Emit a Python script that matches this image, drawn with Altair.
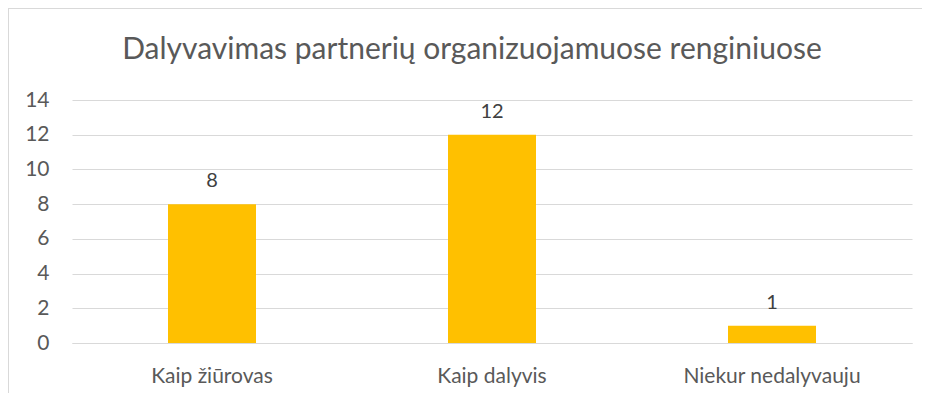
import altair as alt
import pandas as pd

categories = ["Kaip žiūrovas", "Kaip dalyvis", "Niekur nedalyvauju"]
values = [8, 12, 1]
y_ticks = [0, 2, 4, 6, 8, 10, 12, 14]

df = pd.DataFrame({"cat": categories, "val": values})

FONT = "Lato"
GREY = "#595959"

base = alt.Chart(df).encode(
    x=alt.X("cat:N", sort=categories, title=None,
            scale=alt.Scale(paddingInner=0, paddingOuter=0),
            axis=alt.Axis(labelAngle=0, labelFont=FONT, labelFontSize=21, labelColor=GREY,
                          labelPadding=22, ticks=False, domainColor="#D9D9D9", domainWidth=1.2)),
    y=alt.Y("val:Q", title=None,
            scale=alt.Scale(domain=[0, 14]),
            axis=alt.Axis(values=y_ticks, labelFont=FONT, labelFontSize=21, labelColor=GREY,
                          labelPadding=23, ticks=False, domain=False,
                          gridColor="#D9D9D9", gridWidth=1.2)),
)

bars = base.mark_bar(color="#FFC000", size=88)
labels = base.mark_text(font=FONT, fontSize=20, color="#404040", dy=-17, baseline="alphabetic").encode(
    text="val:Q")

frame = alt.Chart(df).mark_rect(fill=None, stroke="#D9D9D9", strokeWidth=1.5).encode(
    x=alt.value(-64), x2=alt.value(1000), y=alt.value(-92), y2=alt.value(400))

chart = alt.layer(frame, bars, labels).properties(
    width=840, height=243,
    autosize=alt.AutoSizeParams(type="none"),
    padding={"left": 64, "top": 92, "right": 10, "bottom": 50},
    title=alt.TitleParams("Dalyvavimas partnerių organizuojamuose renginiuose",
                          font=FONT, fontSize=30, fontWeight="normal", color=GREY,
                          anchor="middle", frame="group", dx=-20, offset=0, dy=58),
).configure_view(stroke=None)

chart.save("out.html", embed_options={"renderer": "svg", "actions": False})
